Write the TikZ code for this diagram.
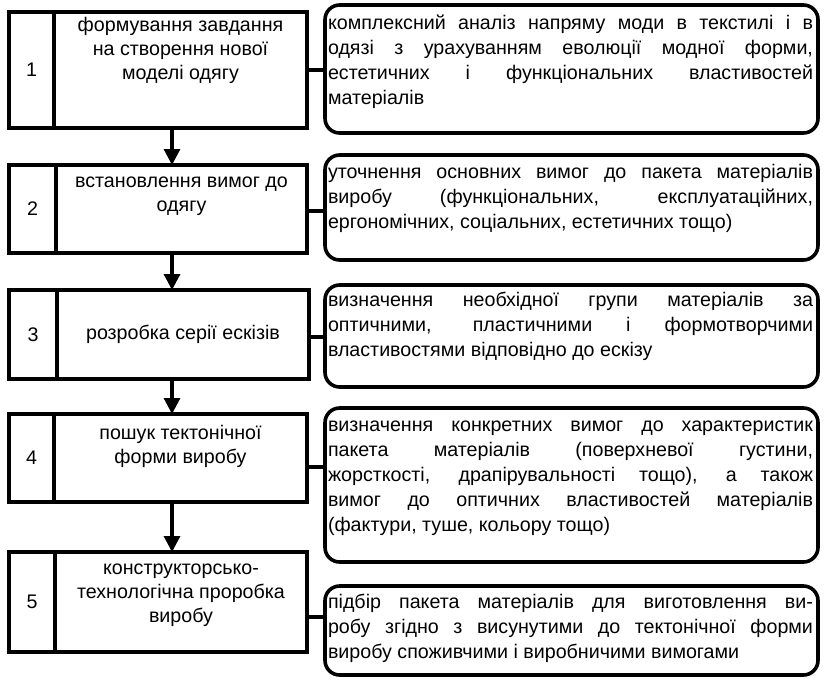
\documentclass[tikz,border=0pt]{standalone}
\usepackage{fontspec}
\setmainfont{Liberation Sans}
\usetikzlibrary{arrows.meta,calc}
\newdimen\px \px=0.75pt
\newcommand\lfont{\fontsize{14.75pt}{18pt}\selectfont}
\newcommand\rfont{\fontsize{14.75pt}{18.75pt}\selectfont\leftskip=2.25pt\rightskip=3.75pt\hyphenpenalty=10000\tolerance=9999\relax}
\newcommand\tops[1]{\rule{0pt}{#1}}
\begin{document}
\begin{tikzpicture}[x=0.75pt,y=-0.75pt,
  boxframe/.style={draw, line width=2.7pt, inner sep=0pt, outer sep=0pt},
  rbox/.style={boxframe, rounded corners=11pt},
  link/.style={line width=2.3pt},
  arr/.style={link, -{Triangle[length=12pt,width=12pt]}}]
\useasboundingbox (0,0) rectangle (824,679);

% left column: number cells and text cells
\node[boxframe, anchor=north west] (N1) at (9,12) {\parbox[c][116\px][c]{45\px}{\centering\lfont 1}};
\node[boxframe, anchor=north west] (T1) at (54,12) {\parbox[c][116\px][t]{253\px}{\centering\lfont\tops{14.5pt}формування завдання\\ на створення нової\\ моделі одягу}};

\node[boxframe, anchor=north west] (N2) at (9,165) {\parbox[c][88\px][c]{47\px}{\centering\lfont 2}};
\node[boxframe, anchor=north west] (T2) at (56,165) {\parbox[c][88\px][t]{251\px}{\centering\lfont\tops{17pt}встановлення вимог до\\ одягу}};

\node[boxframe, anchor=north west] (N3) at (9,290) {\parbox[c][89\px][c]{48\px}{\centering\lfont 3}};
\node[boxframe, anchor=north west] (T3) at (57,290) {\parbox[c][89\px][c]{252\px}{\centering\lfont розробка серії ескізів}};

\node[boxframe, anchor=north west] (N4) at (9,414) {\parbox[c][88\px][c]{45\px}{\centering\lfont 4}};
\node[boxframe, anchor=north west] (T4) at (54,414) {\parbox[c][88\px][t]{253\px}{\centering\lfont\tops{19pt}пошук тектонічної\\ форми виробу}};

\node[boxframe, anchor=north west] (N5) at (9,552) {\parbox[c][100\px][c]{46\px}{\centering\lfont 5}};
\node[boxframe, anchor=north west] (T5) at (55,552) {\parbox[c][100\px][t]{252\px}{\centering\lfont\tops{17pt}конструкторсько-\\ технологічна проробка\\ виробу}};

% right column
\node[rbox, anchor=north west] (R1) at (325,5) {\parbox[c][128\px][t]{493\px}{\rfont\tops{18pt}комплексний аналіз напряму моди в текстилі і в\linebreak одязі з урахуванням еволюції модної форми,\linebreak естетичних і функціональних властивостей\linebreak матеріалів}};

\node[rbox, anchor=north west] (R2) at (325,155) {\parbox[c][105\px][t]{493\px}{\rfont\tops{17.5pt}уточнення основних вимог до пакета матеріалів\linebreak виробу (функціональних, експлуатаційних,\linebreak ергономічних, соціальних, естетичних тощо)}};

\node[rbox, anchor=north west] (R3) at (325,285) {\parbox[c][102\px][t]{493\px}{\rfont\tops{16pt}визначення необхідної групи матеріалів за\linebreak оптичними, пластичними і формотворчими\linebreak властивостями відповідно до ескізу}};

\node[rbox, anchor=north west] (R4) at (325,408) {\parbox[c][154\px][t]{493\px}{\rfont\tops{17.5pt}визначення конкретних вимог до характеристик\linebreak пакета матеріалів (поверхневої густини,\linebreak жорсткості, драпірувальності тощо), а також\linebreak вимог до оптичних властивостей матеріалів\linebreak (фактури, туше, кольору тощо)}};

\node[rbox, anchor=north west] (R5) at (325,586) {\parbox[c][89\px][t]{493\px}{\rfont\tops{17pt}підбір пакета матеріалів для виготовлення ви-\linebreak робу згідно з висунутими до тектонічної форми\linebreak виробу споживчими і виробничими вимогами}};

% vertical arrows
\coordinate (ax) at (172,0);
\draw[arr] (T1.south -| ax) -- (T2.north -| ax);
\draw[arr] (T2.south -| ax) -- (T3.north -| ax);
\draw[arr] (T3.south -| ax) -- (T4.north -| ax);
\draw[arr] (T4.south -| ax) -- (T5.north -| ax);

% horizontal links
\coordinate (c1) at (T1.east);
\coordinate (c2) at ($(T2.east)+(0,2)$);
\coordinate (c3) at ($(T3.east)+(0,2.5)$);
\coordinate (c4) at ($(T4.east)+(0,9)$);
\coordinate (c5) at ($(T5.east)+(0,15)$);
\draw[link] (c1) -- (c1 -| R1.west);
\draw[link] (c2) -- (c2 -| R2.west);
\draw[link] (c3) -- (c3 -| R3.west);
\draw[link] (c4) -- (c4 -| R4.west);
\draw[link] (c5) -- (c5 -| R5.west);
\end{tikzpicture}
\end{document}
